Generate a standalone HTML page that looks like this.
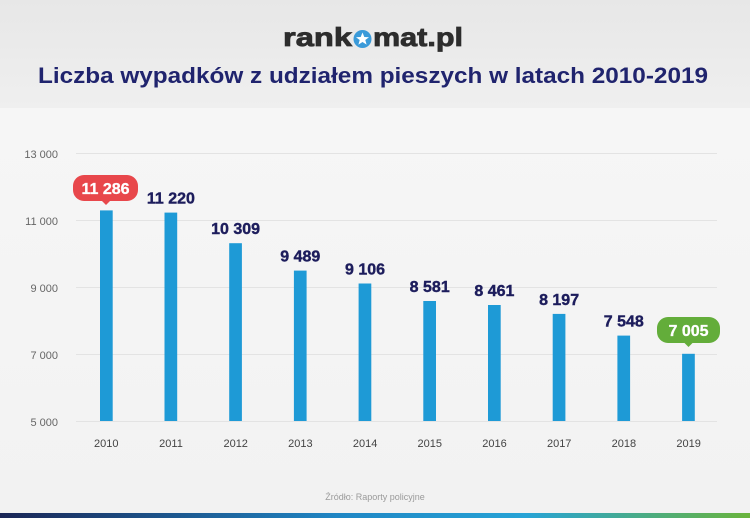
<!DOCTYPE html>
<html><head><meta charset="utf-8"><style>
html,body{margin:0;padding:0;width:750px;height:518px;overflow:hidden;background:#f4f4f4}
svg{display:block}
</style></head><body>
<svg width="750" height="518" viewBox="0 0 750 518" xmlns="http://www.w3.org/2000/svg" font-family="'Liberation Sans', sans-serif">
<defs>
<linearGradient id="hdr" x1="0" y1="0" x2="0" y2="1"><stop offset="0" stop-color="#e7e7e7"/><stop offset="1" stop-color="#efefef"/></linearGradient>
<linearGradient id="body" x1="0" y1="0" x2="0" y2="1"><stop offset="0" stop-color="#f7f7f7"/><stop offset="1" stop-color="#f2f2f2"/></linearGradient>
<linearGradient id="stripe" x1="0" y1="0" x2="1" y2="0"><stop offset="0" stop-color="#1b2656"/><stop offset="0.45" stop-color="#1f86c4"/><stop offset="0.7" stop-color="#27a3d6"/><stop offset="1" stop-color="#6ab43c"/></linearGradient>
</defs>
<rect x="0" y="0" width="750" height="518" fill="url(#body)"/>
<rect x="0" y="0" width="750" height="108" fill="url(#hdr)"/>
<!-- logo -->
<text x="283" y="46" font-size="26" font-weight="bold" fill="#2d2d2d" stroke="#2d2d2d" stroke-width="0.8" textLength="69" lengthAdjust="spacingAndGlyphs">rank</text>
<circle cx="362.5" cy="39" r="9" fill="#3a9ad9"/>
<polygon points="362.5,32.5 364.3,37 369,37.2 365.3,40 366.6,44.6 362.5,42 358.4,44.6 359.7,40 356,37.2 360.7,37" fill="#ffffff"/>
<text x="373" y="46" font-size="26" font-weight="bold" fill="#2d2d2d" stroke="#2d2d2d" stroke-width="0.8" textLength="90" lengthAdjust="spacingAndGlyphs">mat.pl</text>
<!-- title -->
<text x="38" y="83" font-size="22" font-weight="bold" fill="#20246e" textLength="670" lengthAdjust="spacingAndGlyphs">Liczba wypadków z udziałem pieszych w latach 2010-2019</text>
<!-- grid -->
<g stroke="#e3e3e3" stroke-width="1">
<line x1="76" y1="153.5" x2="717" y2="153.5"/>
<line x1="76" y1="220.5" x2="717" y2="220.5"/>
<line x1="76" y1="287.5" x2="717" y2="287.5"/>
<line x1="76" y1="354.5" x2="717" y2="354.5"/>
<line x1="76" y1="421.5" x2="717" y2="421.5"/>
</g>
<g font-size="11" fill="#666" text-anchor="end">
<text x="58" y="158">13 000</text>
<text x="58" y="225">11 000</text>
<text x="58" y="292">9 000</text>
<text x="58" y="359">7 000</text>
<text x="58" y="426">5 000</text>
</g>
<!-- bars -->
<g fill="#1e9ad6">
<rect x="100" y="210.4" width="12.7" height="210.6"/>
<rect x="164.5" y="212.6" width="12.7" height="208.4"/>
<rect x="229.2" y="243.2" width="12.7" height="177.8"/>
<rect x="293.9" y="270.6" width="12.7" height="150.4"/>
<rect x="358.6" y="283.5" width="12.7" height="137.5"/>
<rect x="423.3" y="301" width="12.7" height="120"/>
<rect x="488" y="305" width="12.7" height="116"/>
<rect x="552.7" y="313.9" width="12.7" height="107.1"/>
<rect x="617.4" y="335.6" width="12.7" height="85.4"/>
<rect x="682.1" y="353.8" width="12.7" height="67.2"/>
</g>
<!-- value labels -->
<g font-size="16" font-weight="bold" fill="#1d1d5c" stroke="#1d1d5c" stroke-width="0.4" text-anchor="middle">
<text x="170.9" y="203.5">11 220</text>
<text x="235.6" y="234">10 309</text>
<text x="300.3" y="261.5">9 489</text>
<text x="365" y="274.5">9 106</text>
<text x="429.7" y="292">8 581</text>
<text x="494.4" y="296">8 461</text>
<text x="559.1" y="305">8 197</text>
<text x="623.8" y="326.5">7 548</text>
</g>
<!-- bubbles -->
<rect x="73" y="175" width="65" height="26" rx="11" fill="#e8474b"/>
<polygon points="101,200 111,200 106,205" fill="#e8474b"/>
<text x="105.5" y="194" font-size="16" font-weight="bold" fill="#ffffff" stroke="#ffffff" stroke-width="0.3" text-anchor="middle">11 286</text>
<rect x="657" y="317" width="63" height="26" rx="11" fill="#63ad3a"/>
<polygon points="683.5,342 693.5,342 688.5,347" fill="#63ad3a"/>
<text x="688.5" y="336" font-size="16" font-weight="bold" fill="#ffffff" stroke="#ffffff" stroke-width="0.3" text-anchor="middle">7 005</text>
<!-- x labels -->
<g font-size="11" fill="#444" text-anchor="middle">
<text x="106.3" y="447">2010</text>
<text x="171" y="447">2011</text>
<text x="235.7" y="447">2012</text>
<text x="300.4" y="447">2013</text>
<text x="365.1" y="447">2014</text>
<text x="429.8" y="447">2015</text>
<text x="494.5" y="447">2016</text>
<text x="559.2" y="447">2017</text>
<text x="623.9" y="447">2018</text>
<text x="688.6" y="447">2019</text>
</g>
<text x="375" y="500" font-size="9" fill="#9a9a9a" text-anchor="middle">Źródło: Raporty policyjne</text>
<rect x="0" y="513" width="750" height="5" fill="url(#stripe)"/>
</svg>
</body></html>
